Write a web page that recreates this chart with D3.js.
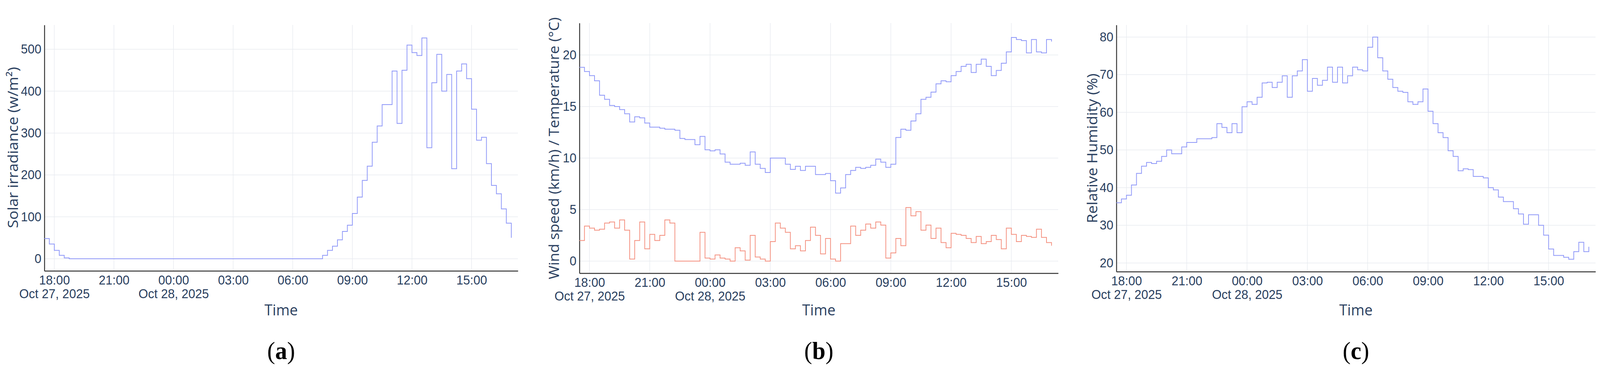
<!DOCTYPE html>
<html>
<head>
<meta charset="utf-8">
<script src="https://cdn.jsdelivr.net/npm/d3@7/dist/d3.min.js"></script>
<style>
  html, body { margin: 0; padding: 0; overflow: hidden; background: #fff; }
  svg { display: block; font-family: "Open Sans", "DejaVu Sans", sans-serif; }
  .grid line { stroke: #e8ebf0; stroke-width: 1.5; }
  .tick text { fill: #2a3f5f; font-size: 33px; }
</style>
</head>
<body>
<svg viewBox="0 0 4291 948" preserveAspectRatio="none"></svg>
<script>
// samples every 15 min from 17:30 Oct 27, 2025
const startTime = new Date(2025, 9, 27, 17, 30);
const endTime = new Date(2025, 9, 28, 17, 20);
const stepMinutes = 15;

const solar = [48,35,20,8,2,0,0,0,0,0,0,0,0,0,0,0,0,0,0,0,0,0,0,0,0,0,0,0,0,0,0,0,
  0,0,0,0,0,0,0,0,0,0,0,0,0,0,0,0,0,0,0,0,0,0,0,0,8,20,30,45,65,80,108,147,
  187,221,278,317,368,368,448,323,450,510,492,485,527,265,420,488,400,440,215,448,465,430,357,283,
  290,227,175,155,119,85,50];
const temperature = [18.8,18.4,18.0,17.5,16.1,15.7,15.1,15.0,14.7,14.3,13.5,14.0,13.9,13.4,13.0,13.0,12.9,12.8,12.8,12.7,11.9,11.8,11.8,11.3,
  12.1,10.8,10.7,10.8,10.4,9.6,9.4,9.4,9.5,9.3,10.6,9.4,9.0,8.6,10.0,10.0,10.0,9.4,8.9,9.2,8.8,9.2,9.2,8.4,
  8.4,8.5,7.8,6.6,7.1,8.4,8.8,9.1,9.0,9.1,9.3,9.9,9.6,9.1,9.4,12.0,12.8,12.7,13.6,14.3,15.7,15.9,16.4,17.2,
  17.5,17.4,18.0,18.4,18.9,19.1,18.3,19.1,19.6,18.9,18.0,18.5,19.2,20.3,21.7,21.5,21.4,20.2,21.5,20.3,20.2,21.5,21.3,20.0];
const windSpeed = [2.0,3.4,3.2,3.0,3.1,3.7,3.8,3.2,4.0,3.0,0.2,2.0,3.8,1.2,2.6,2.0,2.5,4.0,3.7,0,0,0,0,0,
  2.8,0.3,0.2,0.6,0.3,0.2,0.0,1.3,1.0,0.1,2.5,0.4,0.2,0.0,1.9,3.7,3.2,2.8,1.2,1.5,1.0,2.0,3.3,2.5,
  0.7,2.2,0.2,0.0,1.7,1.7,3.4,2.5,3.0,3.6,3.2,3.8,3.5,0.3,0.8,2.2,1.5,5.2,4.4,4.8,3.0,3.5,2.2,3.2,
  1.8,1.3,2.7,2.6,2.5,2.2,1.8,2.4,1.7,1.9,2.5,2.1,1.2,3.2,2.6,1.9,2.5,2.4,2.3,3.1,2.3,1.8,1.5,2.1];
const humidity = [36,37,38,40.7,43.8,45.7,46.7,46.4,47,48.3,50,49,49,50.8,52,52,53,53,53,53.3,57,56,54.6,57,
  54.6,61.5,62.8,62.1,64,67.8,68,66.6,68,69.7,64,69.7,71,74,65.6,69,67.2,68.5,72,68,72,67.8,69.7,72,
  71.3,71,77.3,80,74.5,71,68.8,66.6,65.6,65.3,62.8,62.1,62.8,66.2,60.3,57,54.6,53.3,49.8,48.3,44.5,45,44.8,43,
  43,42.6,40,39.4,37.5,36.3,36.3,34.4,33,30.3,32.8,32.8,30,27.4,23.7,22,22,21.5,21,23,25.5,23,24.3,27.4];

const blueColor = '#8f98f8';
const redColor = '#f4907f';
const textColor = '#2a3f5f';

const times = solar.map((d, i) => new Date(startTime.getTime() + i*stepMinutes*60000));
const tickTimes = d3.range(8).map(i => new Date(2025, 9, 27, 18 + 3*i));

const svg = d3.select("svg")
  .attr("width", window.innerWidth)
  .attr("height", window.innerHeight);

function renderPanel(p){
  const x = d3.scaleTime().domain([startTime, endTime]).range([p.left, p.right]);
  const y = d3.scaleLinear().domain(p.yDomain).range([p.bottom, p.top]);
  const g = svg.append("g");

  // grid
  g.append("g").attr("class", "grid")
   .selectAll("line").data(tickTimes).enter().append("line")
   .attr("x1", d => x(d)).attr("x2", d => x(d)).attr("y1", p.top).attr("y2", p.bottom);
  g.append("g").attr("class", "grid")
   .selectAll("line").data(p.yTicks).enter().append("line")
   .attr("x1", p.left).attr("x2", p.right).attr("y1", d => y(d)).attr("y2", d => y(d));

  // x axis
  const xAxis = d3.axisBottom(x).tickValues(tickTimes).tickSize(0).tickPadding(12)
                  .tickFormat(d3.timeFormat("%H:%M"));
  const xg = g.append("g").attr("transform", "translate(0," + p.bottom + ")").call(xAxis);
  xg.select(".domain").attr("stroke", "#333").attr("stroke-width", 2.5);
  xg.selectAll(".tick text").attr("dy", "0.71em");
  xg.selectAll(".tick").filter((d, i) => i == 0 || i == 2)
    .append("text")
    .attr("y", 47).attr("dy", "0.71em")
    .attr("fill", textColor).style("font-size", "33px")
    .text(d => d3.timeFormat("%b %d, %Y")(d));

  // y axis
  const yAxis = d3.axisLeft(y).tickValues(p.yTicks).tickSize(0).tickPadding(8);
  const yg = g.append("g").attr("transform", "translate(" + p.left + ",0)").call(yAxis);
  yg.select(".domain").attr("stroke", "#333").attr("stroke-width", 2.5);

  g.append("text")
   .attr("transform", "translate(" + p.labelX + "," + p.labelY + ") rotate(-90)")
   .attr("text-anchor", "middle").attr("dy", "0.35em")
   .attr("fill", textColor).style("font-size", p.labelSize + "px")
   .text(p.yLabel);

  g.append("text")
   .attr("x", (p.left + p.right)/2).attr("y", 808)
   .attr("text-anchor", "middle").attr("fill", textColor).style("font-size", "39px")
   .text("Time");

  g.append("text")
   .attr("x", (p.left + p.right)/2).attr("y", 920)
   .attr("text-anchor", "middle").attr("fill", "#000")
   .style("font-family", "'Liberation Serif', serif").style("font-size", "64px")
   .html('(<tspan font-weight="bold">' + p.letter + '</tspan>)');

  const line = d3.line().curve(d3.curveStepAfter).x((d, i) => x(times[i])).y(d => y(d));
  p.series.forEach(s => {
    g.append("path").datum(s.values)
     .attr("fill", "none").attr("stroke", s.color).attr("stroke-width", 2)
     .attr("d", line);
  });
}

renderPanel({left: 119, right: 1389, top: 64, bottom: 694, yDomain: [-29, 558],
  yTicks: [0, 100, 200, 300, 400, 500], labelX: 35, labelY: 378, labelSize: 39,
  yLabel: "Solar irradiance (w/m²)", letter: "a",
  series: [{values: solar, color: blueColor}]});

renderPanel({left: 1554, right: 2838, top: 59, bottom: 700, yDomain: [-1.17, 23.1],
  yTicks: [0, 5, 10, 15, 20], labelX: 1486, labelY: 380, labelSize: 38,
  yLabel: "Wind speed (km/h) / Temperature (°C)", letter: "b",
  series: [{values: temperature, color: blueColor}, {values: windSpeed, color: redColor}]});

renderPanel({left: 2994, right: 4279, top: 64, bottom: 696, yDomain: [17.7, 83.2],
  yTicks: [20, 30, 40, 50, 60, 70, 80], labelX: 2929, labelY: 380, labelSize: 39,
  yLabel: "Relative Humidity (%)", letter: "c",
  series: [{values: humidity, color: blueColor}]});
</script>
</body>
</html>
